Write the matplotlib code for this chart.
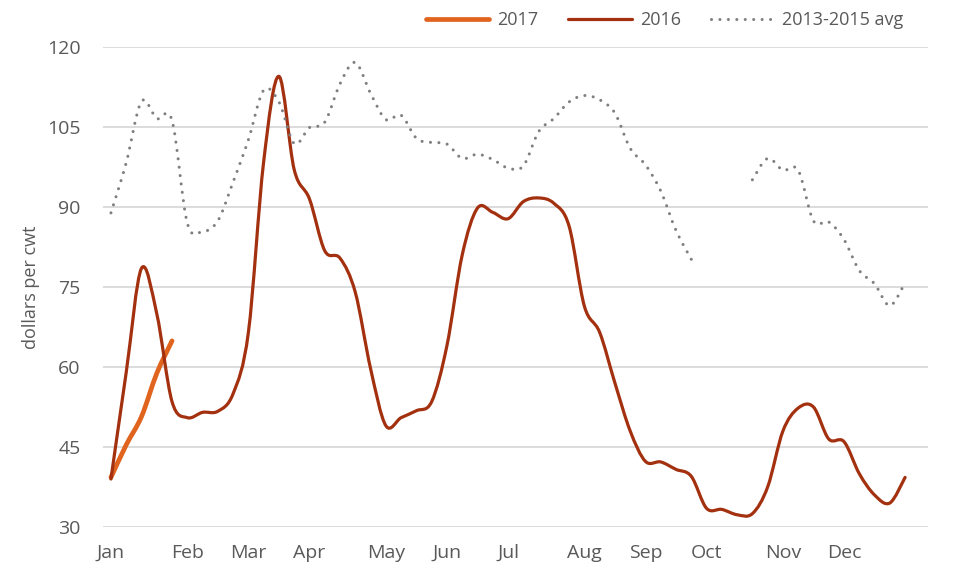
import numpy as np
import matplotlib
matplotlib.use("Agg")
import matplotlib.pyplot as plt
from matplotlib.lines import Line2D
from matplotlib.path import Path
from matplotlib.patches import PathPatch

plt.rcParams['font.family'] = ['Open Sans', 'DejaVu Sans']

weeks = np.arange(53)

v2017 = [39.3, 45.4, 50.7, 58.8, 64.9]

v2016 = [39.0, 59.0, 78.5, 70.0, 53.5, 50.5, 51.5, 51.7, 55.0, 66.5,
         98.5, 114.5, 97.0, 91.5, 81.8, 80.4, 74.0, 59.7, 49.0, 50.5,
         51.8, 53.5, 64.0, 81.0, 89.8, 89.0, 87.8, 91.0, 91.7, 90.7,
         86.4, 71.4, 66.5, 57.0, 48.0, 42.3, 42.2, 40.8, 39.5, 33.5,
         33.3, 32.3, 32.5, 37.5, 48.0, 52.3, 52.5, 46.5, 46.0, 40.0,
         36.0, 34.5, 39.3]

avg = [88.9, 98.3, 109.8, 106.6, 106.2, 87.0, 85.4, 87.4, 94.7, 102.6,
       111.9, 109.7, 101.9, 104.9, 105.9, 113.1, 117.1, 111.3, 106.4, 107.2,
       102.9, 102.1, 101.8, 99.1, 99.9, 98.9, 97.3, 97.7, 104.1, 106.6,
       109.7, 110.9, 110.1, 107.6, 101.0, 97.9, 93.0, 85.6, 80.2, np.nan,
       np.nan, np.nan, 95.1, 99.1, 96.9, 96.9, 87.4, 87.2, 83.9, 78.1,
       75.6, 71.5, 75.8]

month_labels = ['Jan', 'Feb', 'Mar', 'Apr', 'May', 'Jun', 'Jul', 'Aug',
                'Sep', 'Oct', 'Nov', 'Dec']
month_weeks = [0, 5, 9, 13, 18, 22, 26, 31, 35, 39, 44, 48]
y_ticks = [30, 45, 60, 75, 90, 105, 120]

c2017 = '#E0631E'
c2016 = '#A3300E'
cavg = '#7F7F7F'
text_c = '#595959'
grid_c = '#D9D9D9'
dot_style = (0, (0.01, 2.75))


def smooth_path(x, y):
    """Smoothed-line path (like a spreadsheet 'smoothed line'), split at gaps."""
    x = np.asarray(x, float)
    y = np.asarray(y, float)
    ok = ~np.isnan(y)
    verts, codes = [], []
    i = 0
    n = len(y)
    while i < n:
        if not ok[i]:
            i += 1
            continue
        j = i
        while j < n and ok[j]:
            j += 1
        P = np.column_stack([x[i:j], y[i:j]])
        m = len(P)
        verts.append(P[0]); codes.append(Path.MOVETO)
        for k in range(m - 1):
            p0 = P[k - 1] if k > 0 else P[k]
            p1 = P[k]
            p2 = P[k + 1]
            p3 = P[k + 2] if k + 2 < m else P[k + 1]
            verts += [p1 + (p2 - p0) / 6.0, p2 - (p3 - p1) / 6.0, p2]
            codes += [Path.CURVE4] * 3
        i = j
    return Path(np.array(verts), codes)


fig = plt.figure(figsize=(9.55, 5.68), dpi=100)
ax = fig.add_axes([103/955, 41/568, 825/955, 480/568])

ax.add_patch(PathPatch(smooth_path(weeks[:len(v2017)], v2017), fill=False,
                       edgecolor=c2017, lw=3.4, capstyle='round',
                       joinstyle='round', zorder=3))
ax.add_patch(PathPatch(smooth_path(weeks, v2016), fill=False,
                       edgecolor=c2016, lw=2.3, capstyle='round',
                       joinstyle='round', zorder=4))
ax.add_patch(PathPatch(smooth_path(weeks, avg), fill=False,
                       edgecolor=cavg, lw=2.2, linestyle=dot_style,
                       capstyle='round', zorder=5))

ax.set_xlim(-0.52, 53.5)
ax.set_ylim(30, 120)
ax.set_yticks(y_ticks)
ax.set_xticks(month_weeks)
ax.set_xticklabels(month_labels)
ax.yaxis.grid(True, color=grid_c, lw=1.3)
ax.set_axisbelow(True)
for s in ax.spines.values():
    s.set_visible(False)
ax.tick_params(axis='both', length=0, labelsize=14, colors=text_c)
ax.tick_params(axis='y', pad=16)
ax.tick_params(axis='x', pad=12)
ax.set_ylabel('dollars per cwt', fontsize=13, color=text_c, labelpad=5)

handles = [Line2D([], [], color=c2017, lw=3.4, solid_capstyle='round'),
           Line2D([], [], color=c2016, lw=2.3, solid_capstyle='round'),
           Line2D([], [], color=cavg, lw=2.2, linestyle=dot_style,
                  dash_capstyle='round')]
leg = fig.legend(handles, ['2017', '2016', '2013-2015 avg'], loc='upper right',
                 bbox_to_anchor=(914/955, 1.0), ncol=3, frameon=False,
                 fontsize=13, handlelength=3.5, handletextpad=0.45,
                 columnspacing=1.65, borderaxespad=0.2)
for t in leg.get_texts():
    t.set_color(text_c)

fig.savefig('out.png', dpi=100)
